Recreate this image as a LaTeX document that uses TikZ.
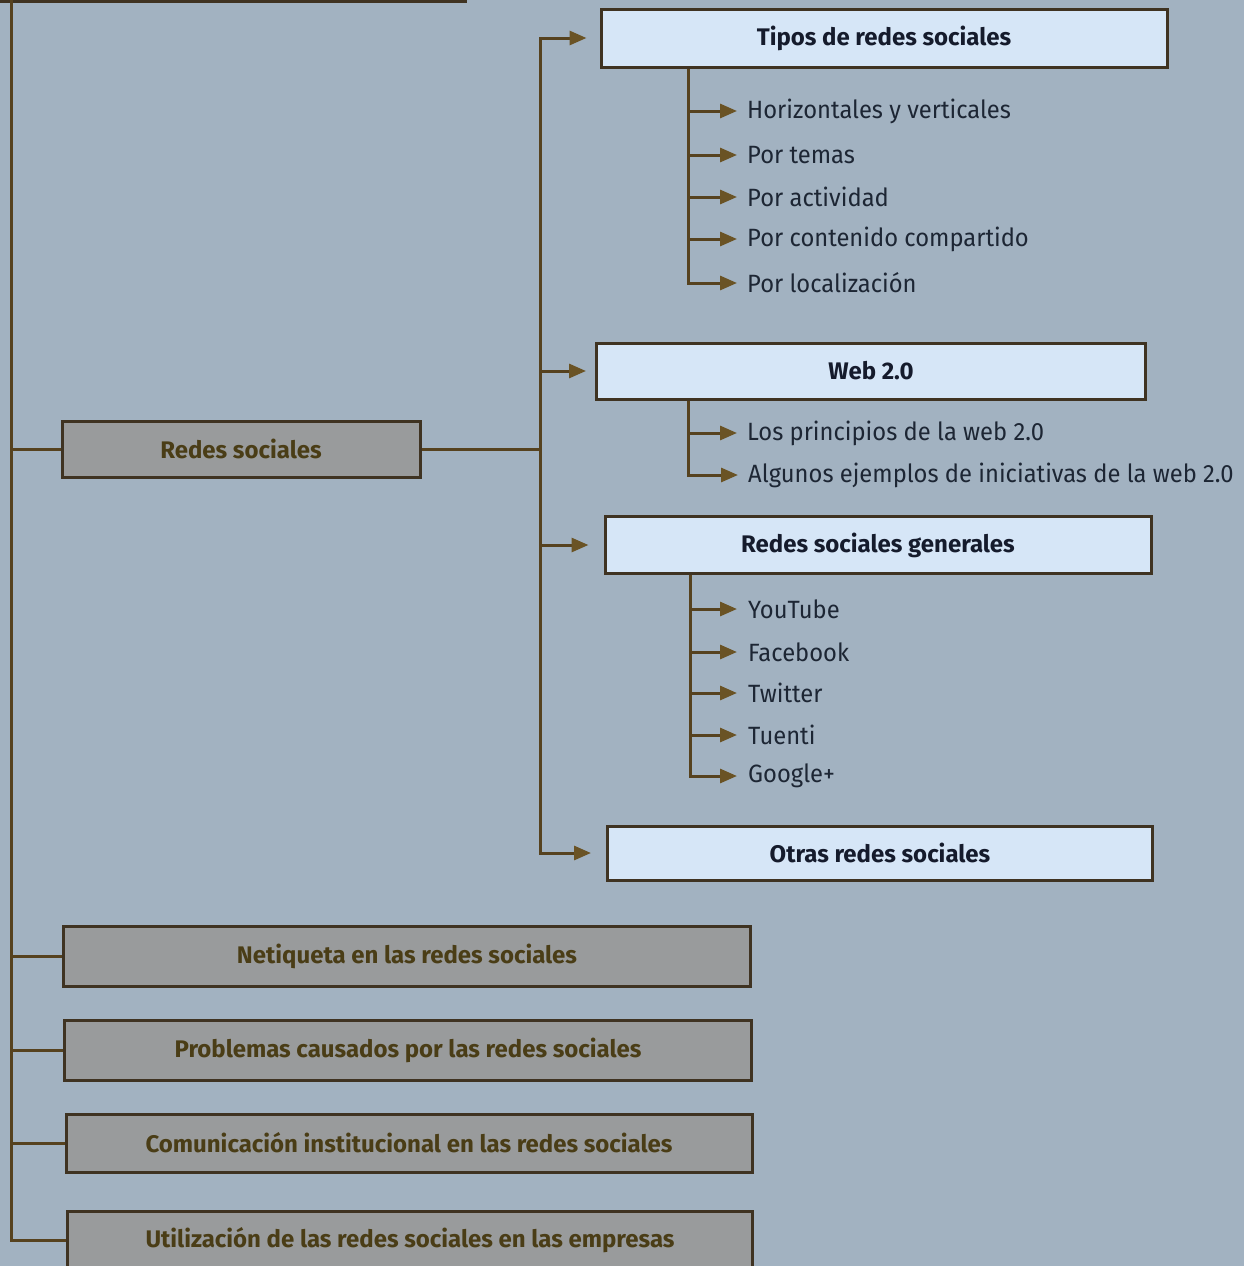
\documentclass[tikz,border=0pt]{standalone}
\usepackage{fontspec}
\setmainfont{Fira Sans}
\newfontfamily\itemfont[FakeStretch=0.95]{Fira Sans}
\usetikzlibrary{arrows.meta}
\definecolor{pagebg}{HTML}{A2B2C1}
\definecolor{lightfill}{HTML}{D6E6F7}
\definecolor{grayfill}{HTML}{999B9C}
\definecolor{boxline}{HTML}{3F3322}
\definecolor{linecol}{HTML}{56421F}
\definecolor{tipcol}{HTML}{6A5325}
\definecolor{navytext}{HTML}{151B2C}
\definecolor{itemtext}{HTML}{1D2634}
\definecolor{olivetext}{HTML}{4A3D16}
\tikzset{
  lightbox/.style={draw=boxline, line width=3pt, fill=lightfill, inner sep=0pt,
    text=navytext, font=\bfseries\fontsize{24}{28}\selectfont},
  graybox/.style={draw=boxline, line width=3pt, fill=grayfill, inner sep=0pt,
    text=olivetext, font=\bfseries\fontsize{24}{28}\selectfont},
  item/.style={anchor=west, inner sep=0pt, text=itemtext,
    font=\itemfont\fontsize{25}{30}\selectfont},
  conn/.style={draw=linecol, line width=3pt},
  arr/.style={conn, -{Triangle[length=17pt,width=14pt,color=tipcol]}},
}
\begin{document}
\begin{tikzpicture}[x=1pt, y=-1pt]
\useasboundingbox (0,0) rectangle (1244,1266);
\clip (0,0) rectangle (1244,1266);
\fill[pagebg] (0,0) rectangle (1244,1266);

% cut-off box at the top
\draw[graybox] (-10,-60) rectangle (465,1.5);

% main gray boxes
\node[graybox, minimum width=358pt, minimum height=56pt] (redes) at (241,449) {Redes sociales};
\node[graybox, minimum width=687pt, minimum height=60pt] (neti) at (407,956) {Netiqueta en las redes sociales};
\node[graybox, minimum width=687pt, minimum height=60pt] (prob) at (408,1050) {Problemas causados por las redes sociales};
\node[graybox, minimum width=686pt, minimum height=58pt] (comu) at (409,1143) {Comunicación institucional en las redes sociales};
\node[graybox, minimum width=685pt, minimum height=58pt] (util) at (410,1240) {Utilización de las redes sociales en las empresas};

% light boxes
\node[lightbox, minimum width=566pt, minimum height=58pt] (tipos) at (884,38) {Tipos de redes sociales};
\node[lightbox, minimum width=549pt, minimum height=56pt] (web) at (871,371) {Web 2.0};
\node[lightbox, minimum width=546pt, minimum height=57pt] (gen) at (878,545) {Redes sociales generales};
\node[lightbox, minimum width=545pt, minimum height=54pt] (otras) at (880,853) {Otras redes sociales};

% items
\node[item] (t1) at (747,111) {Horizontales y verticales};
\node[item] (t2) at (747,155) {Por temas};
\node[item] (t3) at (747,197) {Por actividad};
\node[item] (t4) at (747,239) {Por contenido compartido};
\node[item] (t5) at (747,283) {Por localización};

\node[item] (w1) at (747,433) {Los principios de la web 2.0};
\node[item] (w2) at (748,475) {Algunos ejemplos de iniciativas de la web 2.0};

\node[item] (g1) at (748,609) {YouTube};
\node[item] (g2) at (748,652) {Facebook};
\node[item] (g3) at (748,693) {Twitter};
\node[item] (g4) at (748,735) {Tuenti};
\node[item] (g5) at (748,776) {Google+};

% main trunk
\coordinate (mx) at (11,0);
\coordinate (topend) at (11,-2);
\draw[conn] (topend) |- (util.west);
\foreach \b in {redes,neti,prob,comu}
  \draw[conn] (mx |- \b.west) -- (\b.west);

% second trunk
\coordinate (sx) at (540,0);
\draw[conn] (redes.east) -- (sx |- redes.east);
\draw[arr, shorten >=13pt] (sx |- otras.west) |- (tipos.west);
\draw[arr, shorten >=15pt] (sx |- web.west) |- (otras.west);
\draw[arr, shorten >=9pt] (sx |- web.west) -- (web.west);
\draw[arr, shorten >=15pt] (sx |- gen.west) -- (gen.west);

% sub lists
\coordinate (tx) at (688,0);
\draw[arr, shorten >=10pt] (tx |- tipos.south) |- (t5.west);
\foreach \i in {t1,t2,t3,t4}
  \draw[arr, shorten >=10pt] (tx |- \i.west) -- (\i.west);
\draw[arr, shorten >=10pt] (tx |- web.south) |- (w2.west);
\draw[arr, shorten >=10pt] (tx |- w1.west) -- (w1.west);
\coordinate (gx) at (690,0);
\draw[arr, shorten >=11pt] (gx |- gen.south) |- (g5.west);
\foreach \i in {g1,g2,g3,g4}
  \draw[arr, shorten >=11pt] (gx |- \i.west) -- (\i.west);
\end{tikzpicture}
\end{document}
